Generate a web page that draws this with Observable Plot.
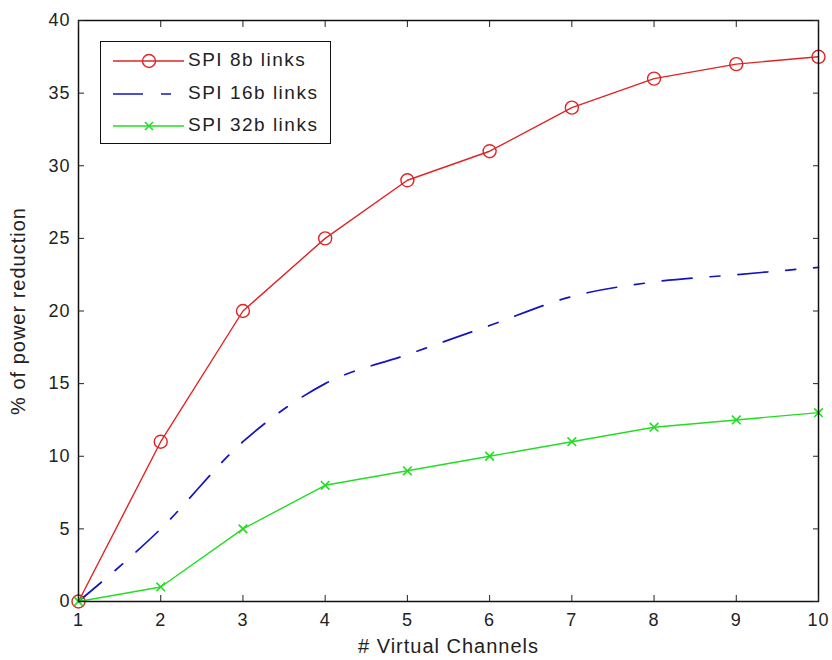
<!DOCTYPE html>
<html><head><meta charset="utf-8">
<script src="https://cdn.jsdelivr.net/npm/d3@7"></script>
<script src="https://cdn.jsdelivr.net/npm/@observablehq/plot@0.6"></script>
<style>
body{margin:0;background:#fff}
#wrap{position:relative;width:832px;height:660px;font-family:"Liberation Sans",Arial,sans-serif}
#legend{position:absolute;left:100px;top:41px;width:229px;height:101px;border:1.5px solid #111;background:#fff}
.row{position:absolute;left:0;height:30px;width:229px}
.row svg{position:absolute;left:12px;top:0}
.row span{position:absolute;left:87px;top:3px;font-size:19px;color:#222;letter-spacing:1.5px;white-space:nowrap}
</style>
</head><body><div id="wrap"></div>
<script>
const channels = [1, 2, 3, 4, 5, 6, 7, 8, 9, 10];
const spi8  = [0, 11, 20, 25, 29, 31, 34, 36, 37, 37.5];
const spi16 = [0, 5, 11, 15, 17, 19, 21, 22, 22.5, 23];
const spi32 = [0, 1, 5, 8, 9, 10, 11, 12, 12.5, 13];
const seriesNames = ["SPI 8b links", "SPI 16b links", "SPI 32b links"];
const colors = ["#e02424", "#1414c0", "#22dd22"];
const xTicks = [1, 2, 3, 4, 5, 6, 7, 8, 9, 10];
const yTicks = [0, 5, 10, 15, 20, 25, 30, 35, 40];
const xLabel = "# Virtual Channels";
const yLabel = "% of power reduction";

const mk = (vals) => channels.map((c, i) => ({x: c, y: vals[i]}));
const d8 = mk(spi8), d16 = mk(spi16), d32 = mk(spi32);

const chart = Plot.plot({
  width: 832, height: 660,
  marginLeft: 78, marginRight: 14, marginTop: 20, marginBottom: 59,
  x: {domain: [1, 10]},
  y: {domain: [0, 40]},
  style: {fontSize: "18px", fontFamily: '"Liberation Sans", Arial, sans-serif', color: "#222", background: "#fff", letterSpacing: "1px"},
  marks: [
    Plot.line(d8, {x: "x", y: "y", stroke: colors[0], strokeWidth: 1.4}),
    Plot.dot(d8, {x: "x", y: "y", r: 6.5, stroke: colors[0], strokeWidth: 1.4, fill: "none"}),
    Plot.line(d16, {x: "x", y: "y", stroke: colors[1], strokeWidth: 1.7, strokeDasharray: "30,18,10,18", curve: "monotone-x"}),
    Plot.line(d32, {x: "x", y: "y", stroke: colors[2], strokeWidth: 1.4}),
    Plot.dot(d32, {x: "x", y: "y", r: 4, symbol: "times", stroke: colors[2], strokeWidth: 1.6}),
    Plot.frame({stroke: "#111", strokeWidth: 1.5}),
    Plot.axisX({ticks: xTicks, tickSize: -6, tickPadding: 18, label: null, tickFormat: d => String(d)}),
    Plot.axisX({anchor: "top", ticks: xTicks, tickSize: -6, label: null, tickFormat: () => ""}),
    Plot.axisY({ticks: yTicks, tickSize: -6, tickPadding: 14, label: null}),
    Plot.axisY({anchor: "right", ticks: yTicks, tickSize: -6, label: null, tickFormat: () => ""}),
    Plot.text([xLabel], {text: d => d, frameAnchor: "bottom", lineAnchor: "middle", textAnchor: "middle", dy: 45, fontSize: 20}),
    Plot.text([yLabel], {text: d => d, frameAnchor: "left", lineAnchor: "middle", textAnchor: "middle", dx: -60, rotate: -90, fontSize: 20})
  ]
});
const wrap = document.getElementById("wrap");
wrap.appendChild(chart);

// legend
const lg = document.createElement("div");
lg.id = "legend";
const markers = ['<circle cx="36" cy="15" r="6.5" fill="none" stroke="COL" stroke-width="1.4"/>', '', '<path d="M32,11L40,19M40,11L32,19" stroke="COL" stroke-width="1.6"/>'];
const dashes = ["", "30,18,10,18", ""];
seriesNames.forEach((name, i) => {
  const row = document.createElement("div");
  row.className = "row";
  row.style.top = (4 + i * 32.5) + "px";
  row.innerHTML = `<svg width="72" height="30"><line x1="0" y1="15" x2="71" y2="15" stroke="${colors[i]}" stroke-width="1.6" ${dashes[i] ? `stroke-dasharray="${dashes[i]}"` : ""}/>${markers[i].replace(/COL/g, colors[i])}</svg><span>${name}</span>`;
  lg.appendChild(row);
});
wrap.appendChild(lg);
</script>
</body></html>
